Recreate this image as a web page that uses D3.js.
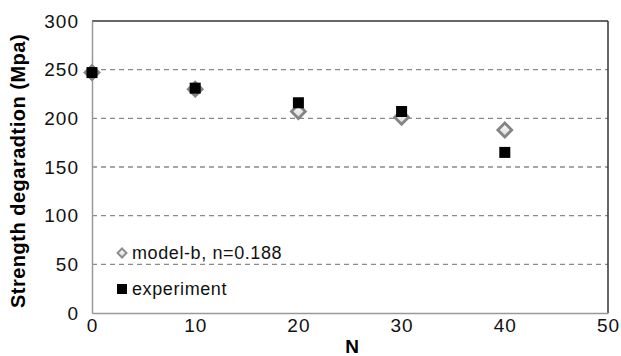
<!DOCTYPE html>
<html>
<head>
<meta charset="utf-8">
<script src="https://cdn.jsdelivr.net/npm/d3@7"></script>
<style>
  body { margin: 0; background: #fff; }
  svg { display: block; font-family: "Liberation Sans", Arial, sans-serif; }
</style>
</head>
<body>
<svg id="chart" width="621" height="356"></svg>
<script>
// data
const cycles = [0, 10, 20, 30, 40];
const model_b = [247, 230, 207, 201, 188];
const experiment = [247, 231, 216, 207, 165];
const x_ticks = [0, 10, 20, 30, 40, 50];
const y_ticks = [0, 50, 100, 150, 200, 250, 300];

const svg = d3.select("#chart");
const margin = { left: 92, right: 13, top: 21, bottom: 43 };
const width = 621 - margin.left - margin.right;
const height = 356 - margin.top - margin.bottom;

const x = d3.scaleLinear().domain([0, 50]).range([margin.left, margin.left + width]);
const y = d3.scaleLinear().domain([0, 300]).range([margin.top + height, margin.top]);

// dashed gridlines
svg.append("g")
    .selectAll("line")
    .data(y_ticks.filter(t => t > 0 && t < 300))
    .enter().append("line")
    .attr("x1", x(0)).attr("x2", x(50))
    .attr("y1", d => y(d)).attr("y2", d => y(d))
    .attr("stroke", "#8a8a8a")
    .attr("stroke-width", 1.3)
    .attr("stroke-dasharray", "5,4");

// frame: top/right dark, left/bottom grey
svg.append("line")
    .attr("x1", x(0)).attr("x2", x(50)).attr("y1", y(300)).attr("y2", y(300))
    .attr("stroke", "#333").attr("stroke-width", 1.5);
svg.append("line")
    .attr("x1", x(50)).attr("x2", x(50)).attr("y1", y(300)).attr("y2", y(0))
    .attr("stroke", "#333").attr("stroke-width", 1.5);

const xAxis = svg.append("g")
    .attr("transform", `translate(0,${y(0)})`)
    .call(d3.axisBottom(x).tickValues(x_ticks).tickSize(0).tickPadding(6));
const yAxis = svg.append("g")
    .attr("transform", `translate(${x(0)},0)`)
    .call(d3.axisLeft(y).tickValues(y_ticks).tickSize(0).tickPadding(13));

[xAxis, yAxis].forEach(a => {
    a.select(".domain").attr("stroke", "#999").attr("stroke-width", 1.5);
    a.selectAll("text").attr("font-size", 19).attr("fill", "#111")
        .attr("letter-spacing", 1)
        .attr("font-family", "Liberation Sans, Arial, sans-serif");
});

// gradient for diamond fill
const defs = svg.append("defs");
const grad = defs.append("linearGradient").attr("id", "dfill")
    .attr("x1", 0).attr("y1", 0).attr("x2", 1).attr("y2", 1);
grad.append("stop").attr("offset", "0%").attr("stop-color", "#ffffff");
grad.append("stop").attr("offset", "100%").attr("stop-color", "#d8d8d8");

const diamond = d3.symbol().type(d3.symbolSquare).size(96);

function drawDiamonds(g, pts) {
    g.selectAll("path.dia")
        .data(pts)
        .enter().append("path")
        .attr("class", "dia")
        .attr("d", diamond)
        .attr("transform", d => `translate(${d[0]},${d[1]}) rotate(45)`)
        .attr("fill", "url(#dfill)")
        .attr("stroke", "#858585")
        .attr("stroke-width", 2.8);
}

function drawSquares(g, pts, s) {
    g.selectAll("rect.sq")
        .data(pts)
        .enter().append("rect")
        .attr("class", "sq")
        .attr("x", d => d[0] - s / 2)
        .attr("y", d => d[1] - s / 2)
        .attr("width", s).attr("height", s)
        .attr("fill", "#000");
}

const marks = svg.append("g");
drawDiamonds(marks, cycles.map((c, i) => [x(c), y(model_b[i])]));
drawSquares(marks, cycles.map((c, i) => [x(c), y(experiment[i])]), 11);

// legend
const legend = svg.append("g");
const legendItems = ["model-b, n=0.188", "experiment"];
const ly = [253, 289];
legend.append("path")
    .attr("d", d3.symbol().type(d3.symbolSquare).size(40))
    .attr("transform", `translate(122,${ly[0]}) rotate(45)`)
    .attr("fill", "url(#dfill)").attr("stroke", "#8c8c8c").attr("stroke-width", 2);
legend.append("rect")
    .attr("x", 117).attr("y", ly[1] - 5).attr("width", 10).attr("height", 10)
    .attr("fill", "#000");
legend.selectAll("text")
    .data(legendItems)
    .enter().append("text")
    .attr("x", 132)
    .attr("y", (d, i) => ly[i] + 6)
    .attr("font-size", 18)
    .attr("letter-spacing", 0.6)
    .attr("fill", "#111")
    .text(d => d);

// axis titles
svg.append("text")
    .attr("x", x(25) + 2)
    .attr("y", 353)
    .attr("text-anchor", "middle")
    .attr("font-size", 19)
    .attr("font-weight", "bold")
    .text("N");
svg.append("text")
    .attr("transform", `translate(25,${(y(0) + y(300)) / 2 + 4}) rotate(-90)`)
    .attr("text-anchor", "middle")
    .attr("font-size", 20)
    .attr("letter-spacing", 0.5)
    .attr("font-weight", "bold")
    .text("Strength degaradtion (Mpa)");
</script>
</body>
</html>
